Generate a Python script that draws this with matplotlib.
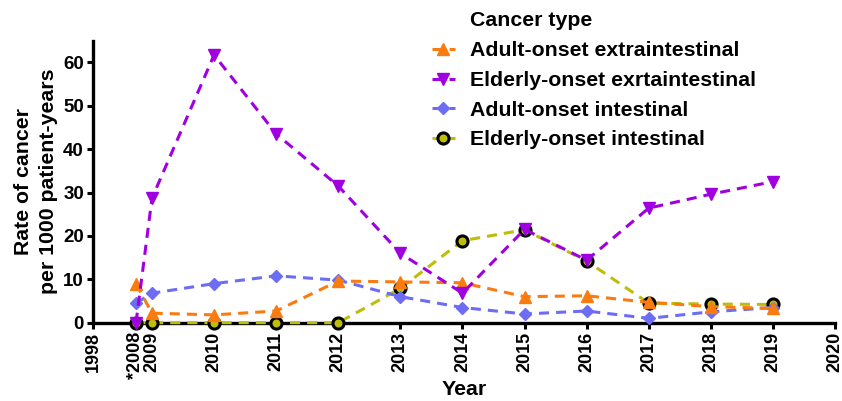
import numpy as np
import matplotlib
matplotlib.use("Agg")
import matplotlib.pyplot as plt

plt.rcParams['font.family'] = ['Liberation Sans', 'DejaVu Sans']
plt.rcParams['font.weight'] = 'bold'

years = [2008, 2009, 2010, 2011, 2012, 2013, 2014, 2015, 2016, 2017, 2018, 2019]
adult_extra = [9.0, 2.2, 1.8, 2.7, 9.6, 9.4, 9.2, 6.0, 6.2, 4.7, 3.7, 3.3]
elderly_extra = [0.0, 28.7, 61.7, 43.5, 31.5, 16.0, 6.8, 21.5, 14.4, 26.4, 29.6, 32.5]
adult_int = [4.5, 6.8, 9.0, 10.8, 9.8, 6.0, 3.5, 2.0, 2.7, 1.0, 2.5, 3.5]
elderly_int = [0.0, 0.0, 0.0, 0.0, 0.0, 7.9, 18.9, 21.4, 14.2, 4.5, 4.3, 4.2]

tick_years = [1998, 2008, 2009, 2010, 2011, 2012, 2013, 2014, 2015, 2016, 2017, 2018, 2019, 2020]
tick_labels = ['1998', '*2008', '2009', '2010', '2011', '2012', '2013', '2014',
               '2015', '2016', '2017', '2018', '2019', '2020']
yticks = [0, 10, 20, 30, 40, 50, 60]

series_labels = ['Adult-onset extraintestinal', 'Elderly-onset exrtaintestinal',
                 'Adult-onset intestinal', 'Elderly-onset intestinal']
legend_title = 'Cancer type'

# broken (compressed) year axis, as in the original
_bx = [1998, 2008, 2009, 2020]
_by = [0.0, 43.0, 59.0, 742.0]
def fwd(x):
    return np.interp(x, _bx, _by)
def inv(y):
    return np.interp(y, _by, _bx)

fig = plt.figure(figsize=(8.42, 4.01), dpi=100)
ax = fig.add_axes([93/842, 1-322.7/401, (835-93)/842, (322.7-40.6)/401])
ax.set_xscale('function', functions=(fwd, inv))

lw = 2.2
dash = (3.3, 2.3)
c_orange = '#FA7C10'
c_purple = '#A000E0'
c_blue = '#6C6CF5'
c_olive = '#BDBD0A'

h4, = ax.plot(years, elderly_int, color=c_olive, lw=lw, dashes=dash, marker='o',
              markersize=8, markerfacecolor=c_olive, markeredgecolor='black',
              markeredgewidth=2.2, clip_on=False, zorder=3, label=series_labels[3])
h3, = ax.plot(years, adult_int, color=c_blue, lw=lw, dashes=dash, marker='D',
              markersize=6.5, markerfacecolor=c_blue, markeredgecolor=c_blue,
              clip_on=False, zorder=4, label=series_labels[2])
h1, = ax.plot(years, adult_extra, color=c_orange, lw=lw, dashes=dash, marker='^',
              markersize=9, markerfacecolor=c_orange, markeredgecolor=c_orange,
              clip_on=False, zorder=5, label=series_labels[0])
h2, = ax.plot(years, elderly_extra, color=c_purple, lw=lw, dashes=dash, marker='v',
              markersize=9, markerfacecolor=c_purple, markeredgecolor=c_purple,
              clip_on=False, zorder=6, label=series_labels[1])

ax.set_xlim(1998, 2020)
ax.set_ylim(0, 65)
ax.set_xticks(tick_years)
ax.set_xticklabels(tick_labels, rotation=90, fontsize=13, fontweight='bold')
ax.set_yticks(yticks)
ax.set_yticklabels([str(v) for v in yticks], fontsize=13.5, fontweight='bold')
ax.minorticks_off()

for s in ['top', 'right']:
    ax.spines[s].set_visible(False)
for s in ['left', 'bottom']:
    ax.spines[s].set_linewidth(2.4)
ax.tick_params(axis='both', width=2.2, length=4.5, pad=2, direction='out')

ax.set_xlabel('Year', fontsize=15.3, fontweight='bold', labelpad=1)
ax.set_ylabel('Rate of cancer\nper 1000 patient-years', fontsize=15.3,
              fontweight='bold', labelpad=4, linespacing=1.35)

leg = fig.legend(handles=[h1, h2, h3, h4], labels=series_labels,
                 loc='upper left', bbox_to_anchor=(432/842, 1-41.5/401),
                 frameon=False, handlelength=1.08,
                 handletextpad=0.7, labelspacing=0.5, borderpad=0,
                 borderaxespad=0, prop={'weight': 'bold', 'size': 15.3})
fig.text(470/842, 1-20/401, legend_title, fontsize=15.3, fontweight='bold',
         ha='left', va='center')

fig.savefig('out.png', dpi=100)
